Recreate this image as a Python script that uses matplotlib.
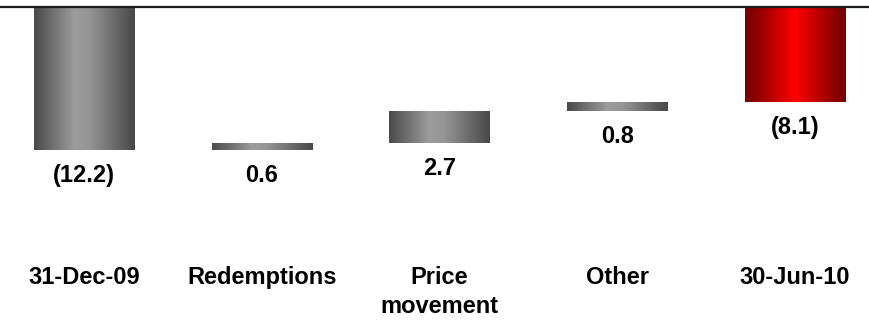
import matplotlib.pyplot as plt
import numpy as np
from matplotlib.colors import LinearSegmentedColormap

categories = ["31-Dec-09", "Redemptions", "Price\nmovement", "Other", "30-Jun-10"]
opening = -12.2
changes = [0.6, 2.7, 0.8]
closing = -8.1
value_labels = ["(12.2)", "0.6", "2.7", "0.8", "(8.1)"]

plt.rcParams['font.family'] = ['Liberation Sans', 'DejaVu Sans']

# waterfall: totals hang from zero, changes float on running total
bottoms = [0.0]
heights = [opening]
running = opening
for c in changes:
    bottoms.append(running)
    heights.append(c)
    running += c
bottoms.append(0.0)
heights.append(closing)

gray_cmap = LinearSegmentedColormap.from_list(
    "gray_bar", [(0, "#4a4a4a"), (0.4, "#9c9c9c"), (0.55, "#959595"), (1, "#484848")])
red_cmap = LinearSegmentedColormap.from_list(
    "red_bar", [(0, "#6e0000"), (0.5, "#ff0000"), (1, "#6e0000")])

fig = plt.figure(figsize=(8.7, 3.2), dpi=100)
ax = fig.add_axes([0, 58 / 320, 1, 255 / 320])

x = np.arange(len(categories))
width = 0.5626
bars = ax.bar(x, heights, width=width, bottom=bottoms, color="none", edgecolor="none")

grad = np.linspace(0, 1, 256).reshape(1, -1)
for i, patch in enumerate(bars.patches):
    x0 = patch.get_x()
    y0 = patch.get_y()
    h = patch.get_height()
    cmap = red_cmap if i == len(bars.patches) - 1 else gray_cmap
    im = ax.imshow(grad, cmap=cmap, aspect="auto", interpolation="bicubic",
                   extent=(x0, x0 + patch.get_width(), min(y0, y0 + h), max(y0, y0 + h)))
    im.set_clip_path(patch)

for i, (b, h) in enumerate(zip(bottoms, heights)):
    low = min(b, b + h)
    ax.annotate(value_labels[i], (x[i], low), xytext=(0, -18.5), textcoords="offset points",
                ha="center", va="center", fontsize=17, fontweight="bold")

ax.set_xlim(-0.4726, 4.422)
ax.set_ylim(-21.76, 0)
ax.set_xticks(x)
ax.set_xticklabels(categories, fontsize=17, fontweight="bold", linespacing=1.3)
ax.tick_params(axis="x", length=0, pad=3)
ax.set_yticks([])
for side in ["left", "right", "bottom"]:
    ax.spines[side].set_visible(False)
ax.spines["top"].set_linewidth(1.6)
ax.spines["top"].set_color("#1a1a1a")

fig.savefig("out.png", dpi=100)
